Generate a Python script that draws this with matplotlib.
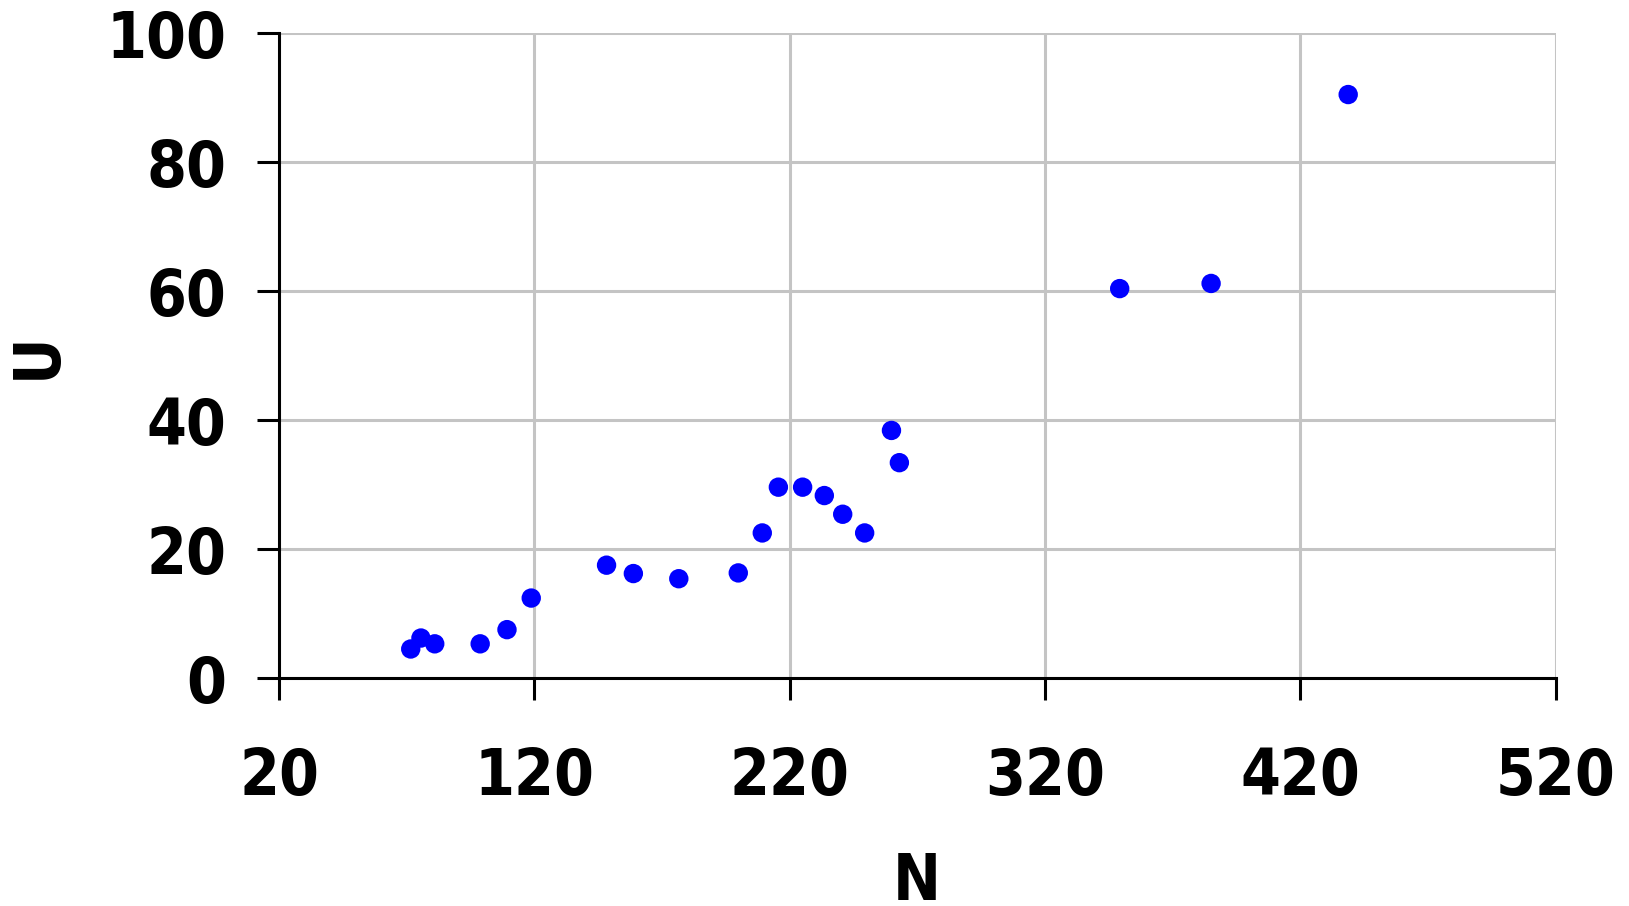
import matplotlib
matplotlib.use("Agg")
import matplotlib.pyplot as plt

plt.rcParams['font.family'] = ['DejaVu Sans']

N_values = [71.6, 75.6, 81.0, 98.8, 109.3, 118.8, 148.3, 158.8, 176.6, 199.9,
            209.3, 215.6, 225.1, 233.6, 240.8, 249.4, 259.9, 263.0,
            349.3, 385.1, 438.8]
U_values = [4.5, 6.2, 5.3, 5.3, 7.5, 12.4, 17.5, 16.2, 15.4, 16.3,
            22.5, 29.6, 29.6, 28.3, 25.4, 22.5, 38.4, 33.4,
            60.4, 61.2, 90.5]

x_ticks = [20, 120, 220, 320, 420, 520]
y_ticks = [0, 20, 40, 60, 80, 100]

fig = plt.figure(figsize=(16.29, 9.06), dpi=100)
ax = fig.add_axes([279/1629, 1 - 678/906, (1555.5 - 279)/1629, (678 - 33.3)/906])

ax.scatter(N_values, U_values, s=195, color='#0000ff', edgecolors='none', zorder=3)

ax.set_xlim(20, 520)
ax.set_ylim(0, 100)
ax.set_xticks(x_ticks)
ax.set_yticks(y_ticks)

ax.grid(True, color='#c4c4c4', linewidth=2.2)
ax.set_axisbelow(True)

for side in ['top', 'right']:
    ax.spines[side].set_visible(False)
for side in ['left', 'bottom']:
    ax.spines[side].set_color('black')
    ax.spines[side].set_linewidth(2.2)
    ax.spines[side].set_zorder(4)

ax.tick_params(axis='both', direction='out', length=16, width=2.2, color='black',
               labelsize=46)
ax.tick_params(axis='x', pad=33)
ax.tick_params(axis='y', pad=22)
for lab in ax.get_xticklabels() + ax.get_yticklabels():
    lab.set_fontweight('bold')
    lab.set_fontstretch('condensed')

ax.set_xlabel('N', fontsize=46, fontweight='bold', fontstretch='condensed', va='center')
ax.set_ylabel('U', fontsize=46, fontweight='bold', fontstretch='condensed', va='center')
ax.xaxis.set_label_coords(0.5, (678 - 882) / 645)
ax.yaxis.set_label_coords((38 - 279) / 1276.5, 0.5)

fig.savefig('out.png', dpi=100)
